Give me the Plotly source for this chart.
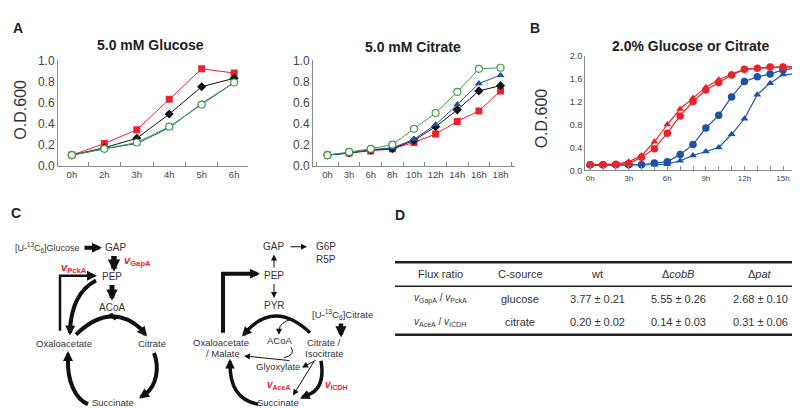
import plotly.graph_objects as go

FONT = "Liberation Sans, Arial, sans-serif"
RED = "#e8232d"
BLUE = "#1d52a6"
GREEN = "#3f9f45"
BLACK = "#111111"

# ---------------- Panel A data ----------------
glc_times = ["0h", "2h", "3h", "4h", "5h", "6h"]
glc_red = [0.10, 0.21, 0.34, 0.63, 0.92, 0.88]
glc_black = [0.10, 0.17, 0.26, 0.49, 0.75, 0.83]
glc_blue = [0.10, 0.16, 0.21, 0.36, 0.59, 0.79]
glc_green = [0.10, 0.16, 0.22, 0.37, 0.58, 0.79]

cit_times = ["0h", "3h", "6h", "8h", "10h", "12h", "14h", "16h", "18h"]
cit_red = [0.10, 0.12, 0.14, 0.16, 0.22, 0.30, 0.42, 0.52, 0.71]
cit_black = [0.10, 0.12, 0.15, 0.16, 0.24, 0.37, 0.53, 0.71, 0.76]
cit_blue = [0.10, 0.12, 0.15, 0.17, 0.25, 0.39, 0.58, 0.78, 0.86]
cit_green = [0.10, 0.13, 0.16, 0.20, 0.35, 0.50, 0.70, 0.92, 0.93]

# ---------------- Panel B data ----------------
b_hours = [0, 1, 2, 3, 4, 5, 6, 7, 8, 9, 10, 11, 12, 13, 14, 15, 16]
b_red_circ = [0.10, 0.10, 0.11, 0.12, 0.23, 0.38, 0.65, 0.95, 1.20, 1.40, 1.53, 1.66, 1.76, 1.78, 1.80, 1.80, 1.80]
b_red_tri = [0.10, 0.10, 0.11, 0.15, 0.26, 0.50, 0.80, 1.07, 1.26, 1.45, 1.58, 1.68, 1.76, 1.78, 1.80, 1.81, 1.81]
b_blue_circ = [0.10, 0.10, 0.10, 0.10, 0.10, 0.13, 0.15, 0.28, 0.45, 0.74, 0.96, 1.28, 1.55, 1.63, 1.68, 1.75, 1.78]
b_blue_tri = [0.09, 0.09, 0.09, 0.09, 0.10, 0.10, 0.11, 0.17, 0.26, 0.33, 0.40, 0.63, 0.90, 1.32, 1.52, 1.67, 1.68]
b_tick_labels = {0: "0h", 3: "3h", 6: "6h", 9: "9h", 12: "12h", 15: "15h"}

# ---------------- Panel D data ----------------
tbl_header = ["Flux ratio", "C-source", "wt", "Δ<i>cobB</i>", "Δ<i>pat</i>"]
tbl_ratio = ["<i>v</i><sub>GapA</sub> / <i>v</i><sub>PckA</sub>",
             "<i>v</i><sub>AceA</sub> / <i>v</i><sub>ICDH</sub>"]
tbl_source = ["glucose", "citrate"]
tbl_wt = ["3.77 ± 0.21", "0.20 ± 0.02"]
tbl_cobB = ["5.55 ± 0.26", "0.14 ± 0.03"]
tbl_pat = ["2.68 ± 0.10", "0.31 ± 0.06"]

fig = go.Figure()

def series(x, y, color, symbol, size, xa, ya, open_=False, lw=1):
    fig.add_trace(go.Scatter(
        x=x, y=y, mode="lines+markers", xaxis=xa, yaxis=ya,
        line=dict(color=color, width=lw),
        marker=dict(symbol=symbol, size=size,
                    color="white" if open_ else color,
                    line=dict(color=color, width=1.2 if open_ else 0)),
        showlegend=False, hoverinfo="skip"))

for xa, ya, t, r, k, b, g in [("x", "y", glc_times, glc_red, glc_black, glc_blue, glc_green),
                              ("x2", "y2", cit_times, cit_red, cit_black, cit_blue, cit_green)]:
    series(t, r, RED, "square", 7, xa, ya)
    series(t, k, BLACK, "diamond", 7, xa, ya)
    series(t, b, BLUE, "triangle-up", 7, xa, ya)
    series(t, g, GREEN, "circle", 7, xa, ya, open_=True)

series(b_hours, b_blue_tri, BLUE, "triangle-up", 7, "x3", "y3", lw=1.2)
series(b_hours, b_blue_circ, BLUE, "circle", 7.5, "x3", "y3", lw=1.2)
series(b_hours, b_red_tri, RED, "triangle-up", 7, "x3", "y3", lw=1.2)
series(b_hours, b_red_circ, RED, "circle", 7.5, "x3", "y3", lw=1.2)

AX = dict(showgrid=False, zeroline=False, showline=True, linecolor="#8a8a8a",
          linewidth=1, fixedrange=True)

yA = [1 - 156 / 408, 1 - 47 / 408]
fig.update_layout(
    xaxis=dict(**AX, domain=[50 / 800, 240 / 800], type="category", ticks="inside",
               tickson="boundaries", ticklen=4, tickcolor="#8a8a8a", anchor="y",
               tickangle=0, tickfont=dict(family=FONT, size=9.5, color="#444")),
    yaxis=dict(**AX, domain=yA, range=[0, 1.0], dtick=0.2, tickformat=".1f",
               ticks="", anchor="x", tickfont=dict(family=FONT, size=12, color="#444")),
    xaxis2=dict(**AX, domain=[305 / 800, 507 / 800], type="category", ticks="inside",
                tickson="boundaries", ticklen=4, tickcolor="#8a8a8a", anchor="y2",
                tickangle=0, tickfont=dict(family=FONT, size=9.5, color="#444")),
    yaxis2=dict(**AX, domain=yA, range=[0, 1.0], dtick=0.2, tickformat=".1f",
                ticks="", anchor="x2", tickfont=dict(family=FONT, size=12, color="#444")),
    xaxis3=dict(**AX, domain=[577 / 800, 793 / 800], range=[-0.4, 16.4],
                tickvals=b_hours, ticktext=[b_tick_labels.get(h, "") for h in b_hours],
                ticks="inside", ticklen=4, tickcolor="#8a8a8a", anchor="y3", tickangle=0,
                tickfont=dict(family=FONT, size=8, color="#444")),
    yaxis3=dict(**AX, domain=[1 - 161 / 408, 1 - 42 / 408], range=[0, 2.0], dtick=0.4,
                tickformat=".1f", ticks="", anchor="x3",
                tickfont=dict(family=FONT, size=9, color="#444")),
    xaxis4=dict(domain=[0, 1], range=[0, 800], visible=False, fixedrange=True, anchor="y4"),
    yaxis4=dict(domain=[0, 1], range=[408, 0], visible=False, fixedrange=True, anchor="x4"),
)

ann = []
shapes = []

def text(x, y, s, size=9.5, color="#333", anchor="center", bold=False, angle=0):
    if bold:
        s = "<b>" + s + "</b>"
    ann.append(dict(x=x, y=y, xref="x4", yref="y4", text=s, showarrow=False,
                    xanchor=anchor, yanchor="middle", textangle=angle,
                    font=dict(family=FONT, size=size, color=color)))

def arrow(x0, y0, x1, y1, w=1, head=2, size=1.0, color="#111"):
    ann.append(dict(x=x1, y=y1, ax=x0, ay=y0, xref="x4", yref="y4", axref="x4", ayref="y4",
                    text="", showarrow=True, arrowhead=head, arrowsize=size, arrowwidth=w,
                    arrowcolor=color, standoff=0, startstandoff=0))

def path(d, w=1, color="#111"):
    shapes.append(dict(type="path", path=d, xref="x4", yref="y4",
                       line=dict(color=color, width=w)))

def hline(x0, x1, y, w):
    shapes.append(dict(type="line", x0=x0, x1=x1, y0=y, y1=y, xref="x4", yref="y4",
                       line=dict(color="#222", width=w)))

# Panel letters and titles
text(10, 13, "A", size=14, color="#222", bold=True)
text(527, 13, "B", size=14, color="#222", bold=True)
text(8, 205, "C", size=14, color="#222", bold=True)
text(392, 207, "D", size=14, color="#222", bold=True)
text(142, 31, "5.0 mM Glucose", size=14, color="#222", bold=True)
text(405, 33, "5.0 mM Citrate", size=14, color="#222", bold=True)
text(682, 32, "2.0% Glucose or Citrate", size=14, color="#222", bold=True)
text(13, 98, "O.D.600", size=16, color="#333", angle=-90)
text(533, 107, "O.D.600", size=16, color="#333", angle=-90)

TH = 0.5   # arrowhead scale for thick arrows

# ---------------- Panel C, left diagram ----------------
text(5, 241, "[U-<sup>13</sup>C<sub>6</sub>]Glucose", size=9, anchor="left")
arrow(75, 241, 94, 241, w=4, head=2, size=TH)
text(107, 241, "GAP", size=10)
arrow(106, 248, 106, 266, w=5.5, head=2, size=0.45)
text(129, 255, "<b><i>v</i></b><sub><b>GapA</b></sub>", size=11, color=RED)
text(104, 271, "PEP", size=10)
text(66, 262, "<b><i>v</i></b><sub><b>PckA</b></sub>", size=11, color=RED)
arrow(104, 278, 104, 296, w=5, head=2, size=0.45)
text(104, 303, "ACoA", size=10)
text(56, 340, "Oxaloacetate", size=9.5)
text(144, 340, "Citrate", size=9.5)
text(105, 401, "Succinate", size=9.5)
# rectangular PckA route
path("M 52,327 L 52,270 L 84,270", w=2.5)
arrow(80, 270, 89, 270, w=2.5, head=2, size=0.8)
# PEP -> OAA curve
path("M 88,275 Q 64,288 62,326", w=4)
arrow(62.2, 322, 62, 332, w=4, head=2, size=TH)
# OAA -> Citrate arc
path("M 68,331 Q 103,296 134,326", w=4)
arrow(132, 324, 139, 333, w=4, head=2, size=TH)
path("M 103,309 Q 104,313 108,315", w=3)
# Citrate -> Succinate
path("M 146,350 C 152,366 148,384 138,392", w=4)
arrow(140, 390.5, 131, 397, w=4, head=2, size=TH)
# Succinate -> OAA
path("M 80,403 C 68,398 59,380 60,356", w=4)
arrow(60, 356, 60, 348, w=4, head=2, size=TH)

# ---------------- Panel C, right diagram ----------------
text(265, 240, "GAP", size=10)
text(318, 240, "G6P", size=10)
text(318, 253, "R5P", size=10)
arrow(281, 240, 299, 240, w=1, head=2, size=1.2)
text(266, 270, "PEP", size=10)
arrow(266, 263, 266, 248, w=1, head=2, size=1.2)
arrow(266, 277, 266, 293, w=1, head=2, size=1.2)
text(266, 301, "PYR", size=10)
path("M 215,329 L 215,268 L 244,268", w=4)
arrow(240, 268, 252, 268, w=4, head=2, size=TH)
text(334, 310, "[U-<sup>13</sup>C<sub>6</sub>]Citrate", size=9.5)
arrow(333, 318, 333, 334, w=4.5, head=2, size=TH)
text(213, 339, "Oxaloacetate", size=9.5)
text(215, 351, "/ Malate", size=9.5)
text(271, 337, "ACoA", size=9.5)
text(316, 339, "Citrate /", size=9.5)
text(316, 351, "Isocitrate", size=9.5)
text(270, 364, "Glyoxylate", size=9.5)
text(270, 401, "Succinate", size=9.5)
text(270, 383, "<b><i>v</i></b><sub><b>AceA</b></sub>", size=10, color=RED)
text(328, 383, "<b><i>v</i></b><sub><b>ICDH</b></sub>", size=10, color=RED)
# Citrate -> OAA arc
path("M 302,329 Q 268,296 240,326", w=3.5)
arrow(241, 325, 234, 333, w=3.5, head=2, size=0.55)
# branch to ACoA
path("M 284,315 Q 272,318 271,326", w=1)
arrow(271, 325, 271, 331, w=1, head=2, size=1.2)
# ACoA / Glyoxylate -> OAA
path("M 283,344 Q 288,352 276,355", w=1)
arrow(283, 358, 236, 353, w=1, head=2, size=1.2)
# Citrate -> Glyoxylate and Succinate (thin)
arrow(309, 357, 294, 365, w=1, head=2, size=1.2)
arrow(307, 357, 285, 394, w=1, head=2, size=1.2)
# Citrate -> Succinate thick
path("M 313,358 Q 318,388 298,394", w=3.5)
arrow(300, 393.5, 292, 397, w=3.5, head=2, size=0.55)
# Succinate -> OAA thick
path("M 250,403 Q 222,398 222,362", w=3.5)
arrow(222, 362, 222, 356, w=3.5, head=2, size=0.55)

# ---------------- Panel D table ----------------
col_x = [432, 512, 589, 670, 752]
hline(387, 792, 256, 2.5)
hline(387, 792, 281, 1.5)
hline(387, 792, 331, 2.5)
for cx, h in zip(col_x, tbl_header):
    text(cx, 268, h, size=11, color="#333")
row_y = [294, 318]
for i, ry in enumerate(row_y):
    text(col_x[0], ry, tbl_ratio[i], size=10, color="#333")
    text(col_x[1], ry, tbl_source[i], size=11, color="#333")
    text(col_x[2], ry, tbl_wt[i], size=11, color="#333")
    text(col_x[3], ry, tbl_cobB[i], size=11, color="#333")
    text(col_x[4], ry, tbl_pat[i], size=11, color="#333")

fig.update_layout(
    width=800, height=408, autosize=False,
    margin=dict(l=0, r=0, t=0, b=0),
    paper_bgcolor="white", plot_bgcolor="rgba(0,0,0,0)",
    font=dict(family=FONT, color="#333"),
    annotations=ann, shapes=shapes, showlegend=False,
)

fig.write_html("out.html", config={"displayModeBar": False})
